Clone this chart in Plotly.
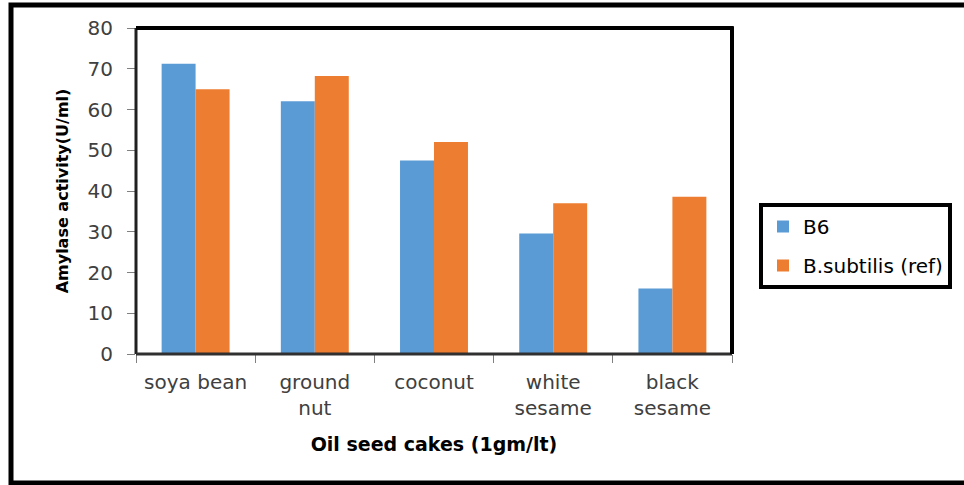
import plotly.graph_objects as go

# Oil seed cake substrates and measured amylase activity (U/ml)
categories = ["soya bean", "ground<br>nut", "coconut", "white<br>sesame", "black<br>sesame"]
b6_activity = [71.2, 62.0, 47.5, 29.6, 16.1]
subtilis_activity = [65.0, 68.2, 52.0, 37.0, 38.6]
y_ticks = [0, 10, 20, 30, 40, 50, 60, 70, 80]

W, H = 964, 485
L, R, T, B = 136, 232, 28, 131
pw, ph = W - L - R, H - T - B

def px(x):
    return (x - L) / pw

def py(y):
    return (H - B - y) / ph

font_family = "DejaVu Sans, sans-serif"
tick_color = "#404040"

fig = go.Figure()
fig.add_trace(go.Bar(x=categories, y=b6_activity, name="B6",
                     marker=dict(color="#5B9BD5", line=dict(width=0)),
                     legendgroup="a"))
fig.add_trace(go.Bar(x=categories, y=subtilis_activity, name="B.subtilis (ref)",
                     marker=dict(color="#ED7D31", line=dict(width=0)),
                     legendgroup="b"))

fig.update_layout(
    width=W, height=H,
    margin=dict(l=L, r=R, t=T, b=B),
    paper_bgcolor="white", plot_bgcolor="white",
    barmode="group", bargap=0.43, bargroupgap=0,
    font=dict(family=font_family, size=20, color=tick_color),
    showlegend=True,
    legend=dict(x=px(759), y=py(203), xanchor="left", yanchor="top",
                bgcolor="white", bordercolor="black", borderwidth=4,
                font=dict(size=20, color="black"), tracegroupgap=10,
                itemwidth=30),
    xaxis=dict(showline=False, ticks="outside", ticklen=8, tickcolor="#808080",
               tickson="boundaries", ticklabelstandoff=14,
               tickfont=dict(size=20, color=tick_color),
               title=dict(text="<b>Oil seed cakes (1gm/lt)</b>",
                          font=dict(size=19, color="black"), standoff=18)),
    yaxis=dict(range=[0, 80], tickvals=y_ticks, showgrid=False, showline=False,
               ticks="outside", ticklen=8, tickcolor="#808080", zeroline=False,
               ticklabelstandoff=10,
               tickfont=dict(size=20, color=tick_color),
               title=dict(text="<b>Amylase activity(U/ml)</b>",
                          font=dict(size=16, color="black"), standoff=14)),
)

# Plot-area frame: thin left/bottom axis lines, heavy top and right edges
fig.add_shape(type="line", xref="paper", yref="paper", x0=0, x1=0, y0=0, y1=1,
              line=dict(color="#202020", width=3))
fig.add_shape(type="line", xref="paper", yref="paper", x0=0, x1=1, y0=0, y1=0,
              line=dict(color="#303030", width=3))
fig.add_shape(type="line", xref="paper", yref="paper", x0=0, x1=1.003, y0=1, y1=1,
              line=dict(color="black", width=4))
fig.add_shape(type="line", xref="paper", yref="paper", x0=1, x1=1, y0=0, y1=1.003,
              line=dict(color="black", width=4))

# Outer frame around the whole chart
fig.add_shape(type="rect", xref="paper", yref="paper",
              x0=px(11), x1=px(975), y0=py(483), y1=py(5),
              line=dict(color="black", width=5), layer="above")

fig.write_html("out.html")
